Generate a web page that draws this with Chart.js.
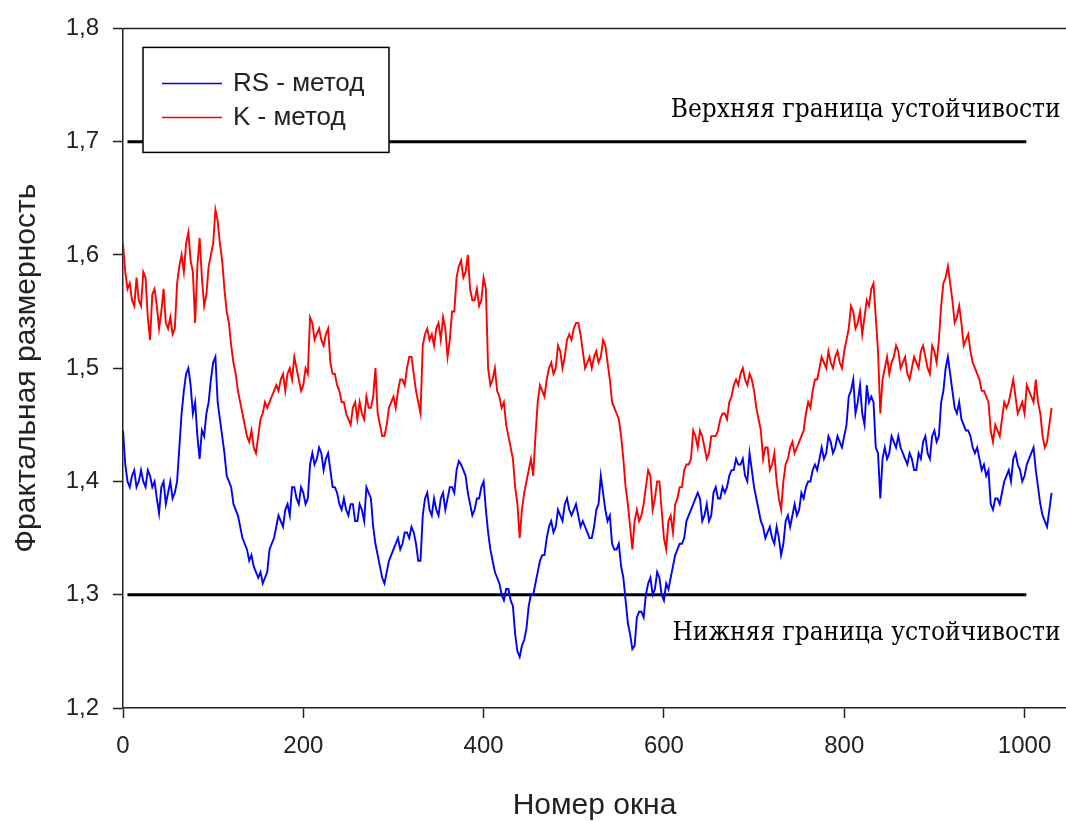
<!DOCTYPE html>
<html>
<head>
<meta charset="utf-8">
<script src="https://cdn.jsdelivr.net/npm/chart.js@4.4.0/dist/chart.umd.min.js"></script>
<style>
  html, body { margin: 0; padding: 0; background: #fff; }
  canvas { display: block; }
</style>
</head>
<body>
<canvas id="chart" width="1066" height="821"></canvas>
<script>
// номера окон (шаг 5)
const windows = [
  0,5,10,15,20,25,30,35,40,45, 50,55,60,65,70,75,80,85,90,95,
  100,105,110,115,120,125,130,135,140,145, 150,155,160,165,170,175,180,185,190,195,
  200,205,210,215,220,225,230,235,240,245, 250,255,260,265,270,275,280,285,290,295,
  300,305,310,315,320,325,330,335,340,345, 350,355,360,365,370,375,380,385,390,395,
  400,405,410,415,420,425,430,435,440,445, 450,455,460,465,470,475,480,485,490,495,
  500,505,510,515,520,525,530,535,540,545, 550,555,560,565,570,575,580,585,590,595,
  600,605,610,615,620,625,630,635,640,645, 650,655,660,665,670,675,680,685,690,695,
  700,705,710,715,720,725,730,735,740,745, 750,755,760,765,770,775,780,785,790,795,
  800,805,810,815,820,825,830,835,840,845, 850,855,860,865,870,875,880,885,890,895,
  900,905,910,915,920,925,930,935,940,945, 950,955,960,965,970,975,980,985,990,995,
  1000,1005,1010,1015,1020,1025,1030
];

// промежуточные окна (между основными)
const midWindows = [
  2.5,7.5,12.5,17.5,22.5,27.5,32.5,37.5,42.5,47.5, 52.5,57.5,62.5,67.5,72.5,77.5,82.5,87.5,92.5,97.5,
  102.5,107.5,112.5,117.5,122.5,127.5,132.5,137.5,142.5,147.5, 152.5,157.5,162.5,167.5,172.5,177.5,182.5,187.5,192.5,197.5,
  202.5,207.5,212.5,217.5,222.5,227.5,232.5,237.5,242.5,247.5, 252.5,257.5,262.5,267.5,272.5,277.5,282.5,287.5,292.5,297.5,
  302.5,307.5,312.5,317.5,322.5,327.5,332.5,337.5,342.5,347.5, 352.5,357.5,362.5,367.5,372.5,377.5,382.5,387.5,392.5,397.5,
  402.5,407.5,412.5,417.5,422.5,427.5,432.5,437.5,442.5,447.5, 452.5,457.5,462.5,467.5,472.5,477.5,482.5,487.5,492.5,497.5,
  502.5,507.5,512.5,517.5,522.5,527.5,532.5,537.5,542.5,547.5, 552.5,557.5,562.5,567.5,572.5,577.5,582.5,587.5,592.5,597.5,
  602.5,607.5,612.5,617.5,622.5,627.5,632.5,637.5,642.5,647.5, 652.5,657.5,662.5,667.5,672.5,677.5,682.5,687.5,692.5,697.5,
  702.5,707.5,712.5,717.5,722.5,727.5,732.5,737.5,742.5,747.5, 752.5,757.5,762.5,767.5,772.5,777.5,782.5,787.5,792.5,797.5,
  802.5,807.5,812.5,817.5,822.5,827.5,832.5,837.5,842.5,847.5, 852.5,857.5,862.5,867.5,872.5,877.5,882.5,887.5,892.5,897.5,
  902.5,907.5,912.5,917.5,922.5,927.5,932.5,937.5,942.5,947.5, 952.5,957.5,962.5,967.5,972.5,977.5,982.5,987.5,992.5,997.5,
  1002.5,1007.5,1012.5,1017.5,1022.5,1027.5
];

// RS - метод
const rsValues = [
  1.445,1.400,1.405,1.395,1.410,1.395,1.405,1.400,1.372,1.400,
  1.390,1.385,1.400,1.460,1.495,1.485,1.470,1.420,1.440,1.470,
  1.505,1.470,1.440,1.405,1.395,1.375,1.360,1.345,1.330,1.325,
  1.315,1.310,1.320,1.345,1.360,1.365,1.375,1.370,1.395,1.380,
  1.390,1.385,1.425,1.420,1.425,1.420,1.410,1.395,1.380,1.385,
  1.370,1.380,1.365,1.375,1.395,1.385,1.345,1.325,1.310,1.330,
  1.340,1.350,1.345,1.355,1.360,1.345,1.330,1.385,1.375,1.385,
  1.370,1.390,1.385,1.395,1.410,1.415,1.405,1.380,1.375,1.385,
  1.400,1.355,1.330,1.315,1.300,1.305,1.295,1.265,1.245,1.260,
  1.290,1.300,1.320,1.335,1.350,1.365,1.360,1.370,1.380,1.375,
  1.375,1.370,1.365,1.355,1.350,1.375,1.405,1.375,1.370,1.340,
  1.345,1.315,1.275,1.252,1.280,1.285,1.300,1.315,1.305,1.315,
  1.295,1.305,1.325,1.340,1.345,1.365,1.375,1.385,1.385,1.370,
  1.365,1.390,1.385,1.395,1.395,1.410,1.420,1.415,1.405,1.425,
  1.395,1.375,1.360,1.355,1.350,1.360,1.335,1.365,1.360,1.380,
  1.375,1.385,1.400,1.410,1.410,1.430,1.425,1.435,1.430,1.435,
  1.440,1.475,1.490,1.470,1.460,1.485,1.475,1.430,1.385,1.430,
  1.425,1.435,1.440,1.425,1.415,1.420,1.410,1.420,1.440,1.420,
  1.445,1.440,1.480,1.510,1.480,1.460,1.455,1.445,1.440,1.425,
  1.420,1.415,1.410,1.375,1.385,1.390,1.405,1.400,1.425,1.410,
  1.405,1.420,1.430,1.395,1.370,1.360,1.390
];
const rsMid = [
  1.415,1.395,1.410,1.400,1.400,1.410,1.395,1.385,1.395,1.380,
  1.400,1.390,1.430,1.480,1.500,1.460,1.440,1.445,1.460,1.490,
  1.510,1.455,1.425,1.400,1.380,1.370,1.350,1.340,1.335,1.320,
  1.320,1.315,1.340,1.350,1.370,1.360,1.380,1.395,1.385,1.395,
  1.380,1.415,1.415,1.430,1.410,1.425,1.395,1.390,1.375,1.375,
  1.380,1.365,1.380,1.365,1.390,1.360,1.335,1.315,1.320,1.335,
  1.345,1.340,1.355,1.350,1.355,1.330,1.370,1.390,1.370,1.375,
  1.385,1.375,1.395,1.390,1.418,1.410,1.390,1.370,1.385,1.395,
  1.375,1.340,1.320,1.310,1.295,1.305,1.290,1.250,1.255,1.270,
  1.300,1.310,1.330,1.335,1.360,1.355,1.375,1.365,1.385,1.370,
  1.380,1.360,1.360,1.350,1.360,1.380,1.390,1.365,1.345,1.340,
  1.325,1.295,1.265,1.255,1.285,1.280,1.310,1.300,1.320,1.300,
  1.310,1.315,1.335,1.345,1.350,1.370,1.380,1.390,1.365,1.380,
  1.370,1.395,1.385,1.390,1.405,1.410,1.415,1.420,1.400,1.410,
  1.385,1.365,1.350,1.360,1.345,1.350,1.345,1.370,1.370,1.370,
  1.390,1.395,1.400,1.415,1.420,1.420,1.440,1.425,1.440,1.430,
  1.450,1.480,1.460,1.485,1.450,1.470,1.470,1.425,1.420,1.420,
  1.440,1.430,1.430,1.420,1.425,1.410,1.425,1.435,1.425,1.440,
  1.435,1.470,1.500,1.495,1.465,1.470,1.450,1.445,1.430,1.430,
  1.410,1.405,1.380,1.385,1.380,1.400,1.410,1.420,1.415,1.400,
  1.415,1.425,1.410,1.380,1.365,1.375
];

// K - метод
const kValues = [
  1.610,1.570,1.560,1.580,1.555,1.580,1.525,1.570,1.535,1.570,
  1.535,1.530,1.575,1.600,1.610,1.595,1.540,1.615,1.555,1.590,
  1.610,1.630,1.595,1.550,1.520,1.495,1.470,1.450,1.435,1.430,
  1.440,1.460,1.465,1.475,1.485,1.490,1.480,1.500,1.510,1.490,
  1.485,1.495,1.540,1.530,1.525,1.530,1.505,1.495,1.480,1.470,
  1.455,1.465,1.455,1.460,1.475,1.465,1.500,1.450,1.440,1.465,
  1.475,1.480,1.490,1.500,1.510,1.480,1.460,1.530,1.525,1.520,
  1.540,1.545,1.510,1.550,1.580,1.595,1.585,1.570,1.560,1.555,
  1.580,1.500,1.490,1.480,1.465,1.450,1.430,1.395,1.350,1.390,
  1.410,1.405,1.470,1.480,1.490,1.505,1.500,1.515,1.510,1.530,
  1.535,1.540,1.515,1.505,1.500,1.515,1.510,1.520,1.490,1.465,
  1.455,1.420,1.380,1.340,1.375,1.370,1.395,1.405,1.385,1.400,
  1.350,1.365,1.355,1.385,1.395,1.415,1.420,1.440,1.445,1.430,
  1.425,1.440,1.445,1.460,1.455,1.475,1.490,1.495,1.490,1.495,
  1.480,1.455,1.420,1.430,1.415,1.400,1.375,1.415,1.430,1.425,
  1.435,1.445,1.470,1.480,1.490,1.510,1.500,1.505,1.510,1.505,
  1.515,1.535,1.550,1.540,1.530,1.560,1.570,1.545,1.460,1.500,
  1.495,1.510,1.515,1.505,1.495,1.500,1.505,1.515,1.510,1.495,
  1.515,1.525,1.575,1.590,1.560,1.545,1.540,1.525,1.515,1.500,
  1.490,1.480,1.470,1.435,1.445,1.455,1.465,1.480,1.475,1.465,
  1.460,1.480,1.470,1.470,1.440,1.435,1.465
];
const kMid = [
  1.585,1.575,1.555,1.560,1.585,1.545,1.565,1.555,1.550,1.540,
  1.545,1.535,1.590,1.585,1.620,1.585,1.590,1.580,1.565,1.600,
  1.640,1.610,1.570,1.540,1.505,1.480,1.460,1.440,1.445,1.425,
  1.455,1.470,1.470,1.480,1.480,1.495,1.495,1.490,1.500,1.480,
  1.500,1.545,1.525,1.535,1.520,1.535,1.495,1.485,1.470,1.460,
  1.450,1.470,1.470,1.455,1.465,1.475,1.460,1.440,1.450,1.470,
  1.465,1.490,1.485,1.510,1.495,1.470,1.520,1.535,1.530,1.535,
  1.525,1.535,1.525,1.550,1.590,1.580,1.600,1.560,1.570,1.560,
  1.570,1.485,1.500,1.475,1.470,1.440,1.420,1.380,1.375,1.400,
  1.420,1.440,1.485,1.475,1.500,1.495,1.520,1.500,1.525,1.525,
  1.540,1.530,1.500,1.510,1.510,1.505,1.525,1.505,1.470,1.460,
  1.440,1.395,1.360,1.365,1.365,1.380,1.410,1.375,1.400,1.375,
  1.340,1.370,1.380,1.395,1.410,1.415,1.445,1.430,1.440,1.420,
  1.440,1.440,1.455,1.460,1.470,1.485,1.485,1.500,1.485,1.490,
  1.465,1.445,1.430,1.410,1.425,1.385,1.400,1.420,1.435,1.430,
  1.440,1.460,1.465,1.490,1.500,1.505,1.515,1.500,1.515,1.500,
  1.525,1.555,1.535,1.550,1.545,1.555,1.575,1.515,1.490,1.510,
  1.505,1.520,1.500,1.510,1.490,1.510,1.500,1.520,1.500,1.520,
  1.505,1.555,1.580,1.575,1.540,1.555,1.520,1.530,1.505,1.495,
  1.480,1.475,1.445,1.450,1.440,1.470,1.470,1.490,1.460,1.470,
  1.485,1.475,1.490,1.460,1.430,1.450
];

// границы устойчивости
const boundWindows = [5, 1002];
const upperBound = 1.7;
const lowerBound = 1.3;

const xTicks = [0, 200, 400, 600, 800, 1000];
const yTicks = [1.2, 1.3, 1.4, 1.5, 1.6, 1.7, 1.8];

const seriesLabels = ['RS - метод', 'K - метод'];
const boundLabels = ['Верхняя граница устойчивости', 'Нижняя граница устойчивости'];

const sansFont = '"Liberation Sans", Arial, sans-serif';
const serifFont = '"DejaVu Serif Condensed", "DejaVu Serif", serif';
const axisColor = '#222';

// рамка сверху
const framePlugin = {
  id: 'frame',
  afterDraw(chart) {
    const { ctx, chartArea } = chart;
    ctx.save();
    ctx.strokeStyle = axisColor;
    ctx.lineWidth = 1.5;
    ctx.beginPath();
    ctx.moveTo(chartArea.left, chartArea.top);
    ctx.lineTo(chartArea.right, chartArea.top);
    ctx.stroke();
    ctx.restore();
  }
};

// подписи границ
const boundTextPlugin = {
  id: 'boundText',
  afterDatasetsDraw(chart) {
    const { ctx, scales } = chart;
    ctx.save();
    ctx.fillStyle = '#000';
    ctx.font = '26px ' + serifFont;
    ctx.textAlign = 'right';
    ctx.textBaseline = 'middle';
    ctx.fillText(boundLabels[0], scales.x.getPixelForValue(1040), scales.y.getPixelForValue(1.728));
    ctx.fillText(boundLabels[1], scales.x.getPixelForValue(1040), scales.y.getPixelForValue(1.266));
    ctx.restore();
  }
};

// легенда внутри области графика
const boxLegendPlugin = {
  id: 'boxLegend',
  afterDatasetsDraw(chart) {
    const { ctx, chartArea } = chart;
    const bx = chartArea.left + 20, by = chartArea.top + 19, bw = 246, bh = 105;
    ctx.save();
    ctx.fillStyle = '#fff';
    ctx.fillRect(bx, by, bw, bh);
    ctx.strokeStyle = '#000';
    ctx.lineWidth = 1.5;
    ctx.strokeRect(bx, by, bw, bh);
    ctx.font = '26px ' + sansFont;
    ctx.textBaseline = 'middle';
    ctx.textAlign = 'left';
    [0, 1].forEach(i => {
      const ds = chart.data.datasets[i];
      const ly = by + 36 + i * 34;
      ctx.strokeStyle = ds.borderColor;
      ctx.lineWidth = 1.5;
      ctx.beginPath();
      ctx.moveTo(bx + 19, ly);
      ctx.lineTo(bx + 79, ly);
      ctx.stroke();
      ctx.fillStyle = '#222';
      ctx.fillText(ds.label, bx + 90, ly);
    });
    ctx.restore();
  }
};

// чередуем основные и промежуточные окна
function toPoints(values, mids) {
  const pts = [];
  windows.forEach((w, i) => {
    pts.push({ x: w, y: values[i] });
    if (i < midWindows.length) pts.push({ x: midWindows[i], y: mids[i] });
  });
  return pts;
}
const boundPoints = v => boundWindows.map(w => ({ x: w, y: v }));

new Chart(document.getElementById('chart').getContext('2d'), {
  type: 'line',
  data: {
    datasets: [
      { label: seriesLabels[0], data: toPoints(rsValues, rsMid), borderColor: '#0000ff', borderWidth: 1.9, pointRadius: 0, tension: 0 },
      { label: seriesLabels[1], data: toPoints(kValues, kMid), borderColor: '#ff0000', borderWidth: 1.9, pointRadius: 0, tension: 0 },
      { label: 'upper', data: boundPoints(upperBound), borderColor: '#000', borderWidth: 3, pointRadius: 0 },
      { label: 'lower', data: boundPoints(lowerBound), borderColor: '#000', borderWidth: 3, pointRadius: 0 }
    ]
  },
  options: {
    responsive: false,
    animation: false,
    devicePixelRatio: 1,
    layout: { padding: { top: 27, right: 0, left: 0, bottom: 0 } },
    plugins: { legend: { display: false }, tooltip: { enabled: false } },
    scales: {
      x: {
        type: 'linear',
        min: 0,
        max: 1046,
        afterBuildTicks: s => { s.ticks = xTicks.map(v => ({ value: v })); },
        afterFit: s => { s.height = 113; },
        ticks: { font: { family: sansFont, size: 24 }, color: '#222', padding: 14, maxRotation: 0, callback: v => String(v) },
        grid: { drawOnChartArea: false, tickLength: 10, color: axisColor, tickWidth: 1.5 },
        border: { display: true, color: axisColor, width: 1.5 },
        title: { display: true, text: 'Номер окна', color: '#222', font: { family: sansFont, size: 30, lineHeight: 1 }, padding: { top: 0, bottom: 0 } }
      },
      y: {
        min: 1.2,
        max: 1.8,
        afterBuildTicks: s => { s.ticks = yTicks.map(v => ({ value: v })); },
        afterFit: s => { s.width = 123; },
        ticks: { font: { family: sansFont, size: 24 }, color: '#222', padding: 14, callback: v => v.toFixed(1).replace('.', ',') },
        grid: { drawOnChartArea: false, tickLength: 10, color: axisColor, tickWidth: 1.5 },
        border: { display: true, color: axisColor, width: 1.5 },
        title: { display: true, text: 'Фрактальная размерность', color: '#222', font: { family: sansFont, size: 30 }, padding: { top: 9, bottom: 0 } }
      }
    }
  },
  plugins: [framePlugin, boundTextPlugin, boxLegendPlugin]
});
</script>
</body>
</html>
